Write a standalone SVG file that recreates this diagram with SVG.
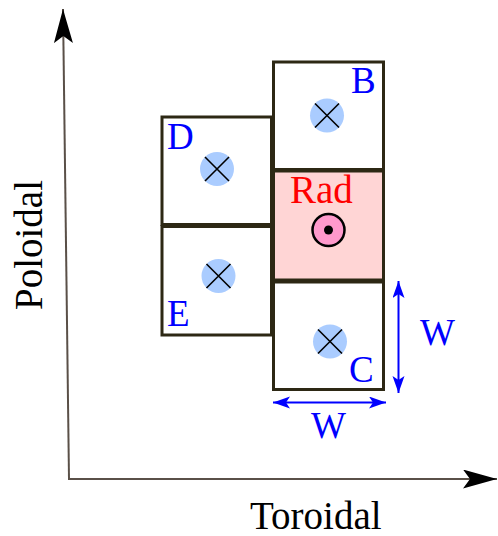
<svg xmlns="http://www.w3.org/2000/svg" width="498" height="536" viewBox="0 0 498 536">
<style>
.box{fill:#ffffff;stroke:#2d2814;stroke-width:3}
.rad{fill:#ffd5d5;stroke:#2d2814;stroke-width:3}
.wire{fill:#aaccff}
.x{stroke:#000;stroke-width:1.6}
.lbl{font-family:"Liberation Serif","Times New Roman",serif;font-size:37px;fill:#0000ff}
.ax{font-family:"Liberation Serif","Times New Roman",serif;font-size:39px;fill:#000}
.axis{stroke:#5a5048;stroke-width:2;fill:none}
.dim{stroke:#0000ff;stroke-width:2;fill:none}
</style>
<defs>
<marker id="axhead" markerUnits="userSpaceOnUse" markerWidth="36" markerHeight="20" refX="34" refY="9.5" orient="auto" viewBox="0 0 36 20">
<path d="M0,0 L34,9.5 L0,19 L7,9.5 Z" fill="#000"/>
</marker>
<marker id="bhead" markerUnits="userSpaceOnUse" markerWidth="18" markerHeight="13" refX="17" refY="6" orient="auto-start-reverse" viewBox="0 0 18 13">
<path d="M0,0 L17,6 L0,12 L4,6 Z" fill="#0000ff"/>
</marker>
</defs>
<g id="connectors">
<line class="axis" x1="69" y1="479" x2="63" y2="9" marker-end="url(#axhead)"/>
<line class="axis" x1="68" y1="479" x2="497" y2="479" marker-end="url(#axhead)"/>
<line class="dim" x1="398.5" y1="281" x2="398.5" y2="393" marker-start="url(#bhead)" marker-end="url(#bhead)"/>
<line class="dim" x1="273" y1="402.5" x2="386" y2="402.5" marker-start="url(#bhead)" marker-end="url(#bhead)"/>
</g>
<g id="node-B">
<rect class="box" x="273.5" y="62" width="110" height="107.5"/>
<circle class="wire" cx="327" cy="115.5" r="17"/>
<path class="x" d="M315,103.5 L339,127.5 M339,103.5 L315,127.5"/>
<text class="lbl" x="351" y="93">B</text>
</g>
<g id="node-D">
<rect class="box" x="162" y="117" width="109.5" height="107.5"/>
<circle class="wire" cx="217" cy="169" r="17"/>
<path class="x" d="M205,157 L229,181 M229,157 L205,181"/>
<text class="lbl" x="167" y="149">D</text>
</g>
<g id="node-Rad">
<rect class="rad" x="273.5" y="171" width="110" height="109"/>
<circle cx="328.5" cy="230" r="16" fill="#ff99cc" stroke="#000" stroke-width="2.5"/>
<circle cx="328.5" cy="230" r="4.5" fill="#000"/>
<text x="290" y="203" font-family="Liberation Serif, Times New Roman, serif" font-size="39" fill="#ff0000">Rad</text>
</g>
<g id="node-E">
<rect class="box" x="162" y="226.5" width="109.5" height="108.5"/>
<circle class="wire" cx="218.5" cy="276" r="17"/>
<path class="x" d="M206.5,264 L230.5,288 M230.5,264 L206.5,288"/>
<text class="lbl" x="167" y="326">E</text>
</g>
<g id="node-C">
<rect class="box" x="273.5" y="282" width="110" height="107.5"/>
<circle class="wire" cx="330" cy="341.5" r="17"/>
<path class="x" d="M318,329.5 L342,353.5 M342,329.5 L318,353.5"/>
<text class="lbl" x="349" y="382">C</text>
</g>
<g id="labels">
<text class="lbl" x="420" y="345">W</text>
<text class="lbl" x="311" y="438">W</text>
<text class="ax" transform="translate(42,310) rotate(-90)">Poloidal</text>
<text class="ax" x="250" y="529" font-size="38">Toroidal</text>
</g>
</svg>
